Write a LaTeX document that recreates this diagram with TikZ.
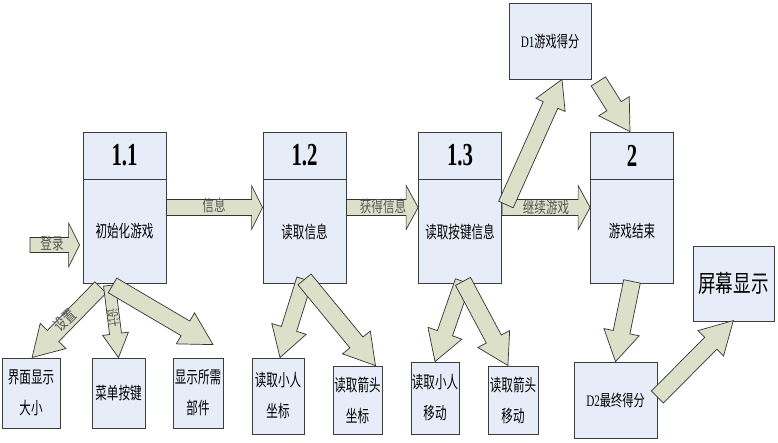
\documentclass[tikz,border=0pt]{standalone}
\usepackage{fontspec}
\setmainfont{Liberation Serif}
\newfontfamily\cjk{Noto Sans CJK SC}
\usepackage{tikz}
\usetikzlibrary{calc}
\definecolor{boxbg}{HTML}{E6ECF8}
\definecolor{boxline}{HTML}{3C3C3C}
\definecolor{arrbg}{HTML}{DCE0C8}
\definecolor{arrline}{HTML}{333333}
\definecolor{labgray}{HTML}{555555}
\tikzset{
  procbox/.style={draw=boxline, fill=boxbg, line width=0.8pt, minimum width=83, minimum height=151, inner sep=0pt},
  databox/.style={draw=boxline, fill=boxbg, line width=0.8pt, inner sep=0pt},
  fatarr/.style={draw=arrline, fill=arrbg, line width=0.7pt, line join=miter},
  title/.style={font=\fontsize{32}{32}\bfseries\selectfont},
  body/.style={font=\cjk\fontsize{17}{31}\selectfont, align=center, inner sep=0pt},
  arrlab/.style={font=\cjk\fontsize{16}{16}\selectfont, text=labgray, inner sep=0pt},
}
\newcommand{\nw}[2][0.68]{\scalebox{#1}[1]{#2}}
% block arrow: tail, tip, shaft half width, head half width, head length
\newcommand{\fatarrow}[5]{%
  \path let \p1=($(#2)-(#1)$) in \pgfextra{%
    \pgfmathparse{atan2(\y1,\x1)}\xdef\arrang{\pgfmathresult}%
    \pgfmathparse{veclen(\x1,\y1)}\xdef\arrlen{\pgfmathresult}};
  \begin{scope}[shift={(#1)}, rotate=\arrang]
    \draw[fatarr] (0,-#3) -- ({\arrlen-#5},-#3) -- ({\arrlen-#5},-#4) -- (\arrlen,0)
      -- ({\arrlen-#5},#4) -- ({\arrlen-#5},#3) -- (0,#3) -- cycle;
  \end{scope}}

\begin{document}
\begin{tikzpicture}[x=1pt, y=-1pt]
  \fill[white] (0,0) rectangle (778,442);
  \useasboundingbox (0,0) rectangle (778,442);

  % process boxes
  \node[procbox] (b11) at (124.5,207.5) {};
  \node[procbox] (b12) at (304.5,207.5) {};
  \node[procbox] (b13) at (460,207.5) {};
  \node[procbox] (b2)  at (632,207.5) {};
  \foreach \b/\t/\s in {b11/1.1/初始化游戏, b12/1.2/读取信息, b13/1.3/读取按键信息, b2/2/游戏结束} {
    \draw[boxline, line width=0.8pt] ($(\b.north west)+(0,48)$) -- ($(\b.north east)+(0,48)$);
    \node[title] (\b t) at ($(\b.north)+(0,24)$) {\nw[0.65]{\t}};
    \node[body] (\b s) at ($(\b.center)+(0,24)$) {\nw{\s}};
  }

  % data boxes
  \node[databox, minimum width=82, minimum height=76] (d1) at (550,41) {\nw[0.7]{\fontsize{16}{16}\selectfont D1{\cjk 游戏得分}}};
  \node[databox, minimum width=83, minimum height=76] (d2) at (615.5,400) {\nw[0.7]{\fontsize{16}{16}\selectfont D2{\cjk 最终得分}}};
  \node[databox, minimum width=81, minimum height=75] (scr) at (733.5,283.5) {\nw[0.73]{\cjk\fontsize{24}{24}\selectfont 屏幕显示}};

  % sub boxes
  \node[databox, body, minimum width=58, minimum height=70] (s1) at (31,393) {\nw{界面显示}\\\nw{大小}};
  \node[databox, body, minimum width=53, minimum height=70] (s2) at (118.5,393) {\nw{菜单按键}};
  \node[databox, body, minimum width=50, minimum height=70] (s3) at (198,393) {\nw{显示所需}\\\nw{部件}};
  \node[databox, body, minimum width=52, minimum height=76] (s4) at (278,396) {\nw{读取小人}\\\nw{坐标}};
  \node[databox, body, minimum width=49, minimum height=68] (s5) at (357.5,400) {\nw{读取箭头}\\\nw{坐标}};
  \node[databox, body, minimum width=48, minimum height=72] (s6) at (435,398) {\nw{读取小人}\\\nw{移动}};
  \node[databox, body, minimum width=50, minimum height=68] (s7) at (513,400) {\nw{读取箭头}\\\nw{移动}};

  % arrow ends
  \coordinate (lg) at (30,245);
  \coordinate (lgtip) at ($(b11.west)+(-3,37.5)$);
  \coordinate (b11a) at ($(b11.south)+(-24,4)$);
  \coordinate (b11b) at ($(b11.south)+(-15,2)$);
  \coordinate (b11c) at ($(b11.south)+(-12,2)$);
  \coordinate (b12a) at ($(b12.south)+(0,-4)$);
  \coordinate (b13a) at ($(b13.south)+(3,-2)$);

  % horizontal arrows
  \fatarrow{lg}{lgtip}{7.5}{22}{11}
  \fatarrow{b11.east}{b12.west}{8}{22}{11}
  \fatarrow{b12.east}{b13.west}{8}{22}{12}
  \fatarrow{b13.east}{b2.west}{8}{22}{12}

  % diagonal arrows
  \fatarrow{$(b13.east)+(4,-3)$}{$(d1.south)+(12,0)$}{8}{16}{28}
  \fatarrow{$(d1.south east)+(7,2)$}{$(b2.north)+(-2,0)$}{8.5}{18}{30}
  \fatarrow{$(b2.south)+(0,-2)$}{d2.north}{8.5}{18}{30}
  \fatarrow{$(d2.east)+(0,-3)$}{$(scr.south)+(0,-1)$}{8.5}{18}{32}
  \fatarrow{b11a}{$(s1.north)+(1,0)$}{8}{18}{30}
  \fatarrow{b11b}{s2.north}{6}{13}{24}
  \fatarrow{b11c}{$(s3.north)+(15,-13)$}{8.5}{18}{32}
  \fatarrow{b12a}{$(s4.north)+(2,0)$}{8}{18}{30}
  \fatarrow{b12a}{$(s5.north)+(18,0)$}{8.5}{18}{30}
  \fatarrow{b13a}{s6.north}{8}{18}{30}
  \fatarrow{b13a}{$(s7.north)+(-5,0)$}{8.5}{18}{30}

  % arrow labels
  \node[arrlab] (l1) at (52,243) {\nw[0.72]{登录}};
  \node[arrlab] (l2) at (214,205) {\nw[0.72]{信息}};
  \node[arrlab] (l3) at (383,206) {\nw[0.72]{获得信息}};
  \node[arrlab] (l4) at (546,207) {\nw[0.72]{继续游戏}};
  \node[arrlab, rotate=44] (l5) at (65,320) {\nw[0.72]{设置}};
  \node[arrlab, rotate=-82, font=\cjk\fontsize{13}{13}\selectfont] (l6) at (113,318) {\nw[0.72]{设计}};
\end{tikzpicture}
\end{document}
